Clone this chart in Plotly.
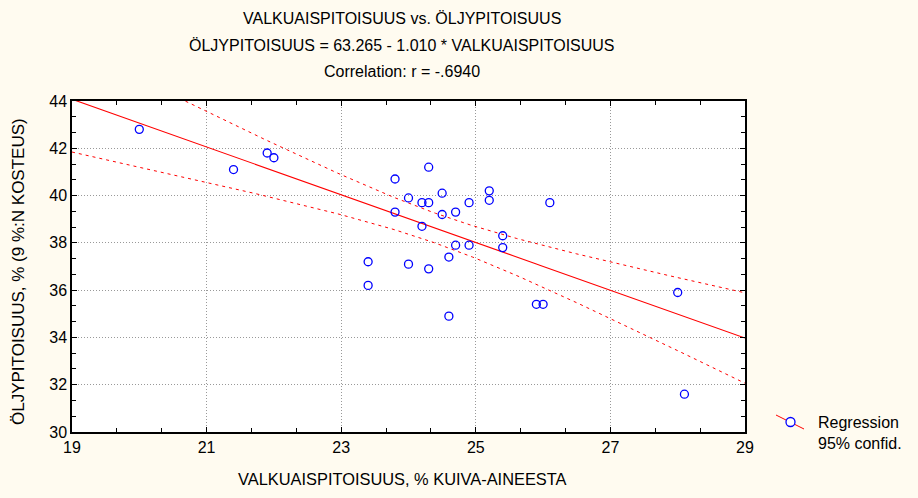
import numpy as np
import plotly.graph_objects as go

# Data
protein = [20.0, 21.4, 21.9, 22.0,
           24.3, 23.8, 24.0, 24.2, 24.3, 24.5, 24.9, 25.2, 25.2, 26.1,
           23.8, 24.5, 24.7, 24.2, 25.4, 24.7, 24.9, 25.4,
           23.4, 24.0, 24.3, 24.6, 23.4, 25.9, 26.0, 24.6,
           28.0, 28.1]
oil = [42.8, 41.1, 41.8, 41.6,
       41.2, 40.7, 39.9, 39.7, 39.7, 40.1, 39.7, 40.2, 39.8, 39.7,
       39.3, 39.2, 39.3, 38.7, 38.3, 37.9, 37.9, 37.8,
       37.2, 37.1, 36.9, 37.4, 36.2, 35.4, 35.4, 34.9,
       35.9, 31.6]

intercept = 63.265
slope = -1.010
t_crit = 2.042  # t(0.975, df=30)

x_ticks = [19, 21, 23, 25, 27, 29]
y_ticks = [30, 32, 34, 36, 38, 40, 42, 44]

x = np.array(protein)
y = np.array(oil)
n = len(x)
xm = x.mean()
sxx = ((x - xm) ** 2).sum()
b1, b0 = np.polyfit(x, y, 1)
resid = y - (b0 + b1 * x)
s = np.sqrt((resid ** 2).sum() / (n - 2))

xl = np.linspace(19, 29, 201)
yl = intercept + slope * xl
hw = t_crit * s * np.sqrt(1.0 / n + (xl - xm) ** 2 / sxx)

FONT = "Liberation Sans"
FS = 16
RED = "#FF0000"
BLUE = "#0000FF"

# plot-area pixel geometry (for placing text annotations)
L, R, T, B = 72, 745, 101, 432
PW, PH = R - L, B - T


def px(xp):
    return (xp - L) / PW


def py(yp):
    return (B - yp) / PH


fig = go.Figure()
fig.add_trace(go.Scatter(x=xl, y=yl + hw, mode="lines",
                         line=dict(color=RED, width=1, dash="3px,4px"),
                         hoverinfo="skip", showlegend=False))
fig.add_trace(go.Scatter(x=xl, y=yl - hw, mode="lines",
                         line=dict(color=RED, width=1, dash="3px,4px"),
                         hoverinfo="skip", showlegend=False))
fig.add_trace(go.Scatter(x=xl, y=yl, mode="lines",
                         line=dict(color=RED, width=1.1),
                         hoverinfo="skip", showlegend=False))
fig.add_trace(go.Scatter(x=protein, y=oil, mode="markers",
                         marker=dict(symbol="circle-open", size=8,
                                     color=BLUE, line=dict(width=1.3, color=BLUE)),
                         showlegend=False))

axis_common = dict(
    showline=True, linecolor="black", linewidth=1.5, mirror="ticks",
    ticks="inside", ticklen=5, tickcolor="black", tickwidth=1,
    showgrid=True, gridcolor="#999999", griddash="1px,2px", gridwidth=1,
    zeroline=False, tickfont=dict(family=FONT, size=FS, color="black"),
)

fig.update_xaxes(range=[19, 29], tickvals=x_ticks, ticktext=[str(v) for v in x_ticks],
                 minor=dict(dtick=2/3, tick0=19, ticks="inside", ticklen=4,
                            tickcolor="black", showgrid=False),
                 **axis_common)
fig.update_yaxes(range=[30, 44], tickvals=y_ticks, ticktext=[str(v) for v in y_ticks],
                 minor=dict(dtick=2/3, tick0=30, ticks="inside", ticklen=4,
                            tickcolor="black", showgrid=False),
                 **axis_common)

titles = ["VALKUAISPITOISUUS vs. ÖLJYPITOISUUS",
          "ÖLJYPITOISUUS = 63.265 - 1.010 * VALKUAISPITOISUUS",
          "Correlation: r = -.6940"]
title_px = [18, 45, 72]
ann = []
for t, yp in zip(titles, title_px):
    ann.append(dict(text=t, xref="paper", yref="paper", x=px(402),
                    y=py(yp), xanchor="center", yanchor="middle",
                    showarrow=False, font=dict(family=FONT, size=FS, color="black")))
# axis titles
ann.append(dict(text="VALKUAISPITOISUUS, % KUIVA-AINEESTA", xref="paper", yref="paper",
                x=px(402), y=py(479), xanchor="center", yanchor="middle", showarrow=False,
                font=dict(family=FONT, size=16.4, color="black")))
ann.append(dict(text="ÖLJYPITOISUUS, % (9 %:N KOSTEUS)", xref="paper", yref="paper",
                x=px(18.5), y=py(271.5), xanchor="center", yanchor="middle", showarrow=False,
                textangle=-90, font=dict(family=FONT, size=17, color="black")))
# legend text
ann.append(dict(text="Regression<br>95% confid.", xref="paper", yref="paper",
                x=px(816), y=py(433), xanchor="left", yanchor="middle",
                align="left", showarrow=False,
                font=dict(family=FONT, size=FS, color="black")))

shapes = [
    dict(type="line", xref="paper", yref="paper",
         x0=px(776), y0=py(415), x1=px(804), y1=py(429),
         line=dict(color=RED, width=1)),
    dict(type="circle", xref="paper", yref="paper",
         x0=px(786), y0=py(426.5), x1=px(795), y1=py(417.5),
         line=dict(color=BLUE, width=1.3), fillcolor="white"),
]

fig.update_layout(
    width=918, height=498,
    margin=dict(l=L, r=918 - R, t=T, b=498 - B),
    paper_bgcolor="#FFFBF0", plot_bgcolor="white",
    annotations=ann, shapes=shapes,
    font=dict(family=FONT, size=FS, color="black"),
)

fig.write_html("out.html", config={"displayModeBar": False},
               post_script="document.body.style.margin='0px';")
